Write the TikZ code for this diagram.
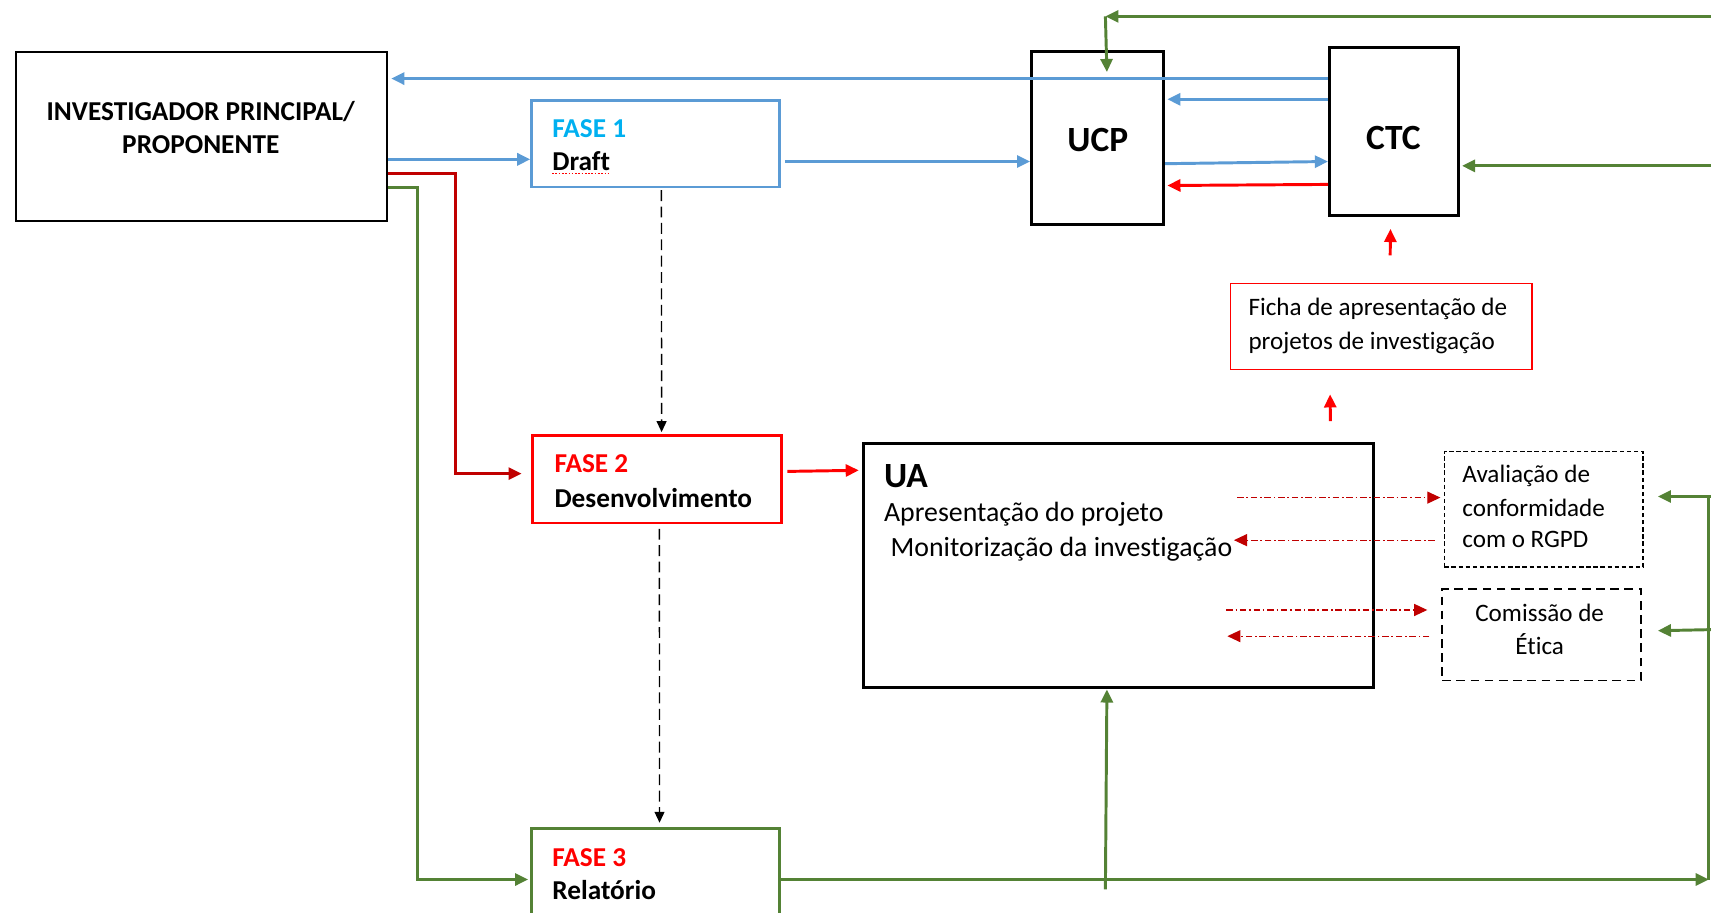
\documentclass[tikz,border=0pt]{standalone}
\usepackage{fontspec}
\setmainfont{Carlito}[Ligatures={NoCommon}]
\usetikzlibrary{arrows.meta,calc}
\definecolor{cblue}{HTML}{5B9BD5}
\definecolor{cgreen}{HTML}{548235}
\definecolor{cdred}{HTML}{C00000}
\definecolor{cred}{HTML}{FF0000}
\definecolor{ccyan}{HTML}{00B0F0}
\begin{document}
\begin{tikzpicture}[x=1pt,y=-1pt,
  box/.style={draw, inner sep=0pt, anchor=north west},
  tx/.style={inner sep=0pt},
  boldtx/.style={tx, font=\fontsize{25}{31}\selectfont\bfseries},
  bigtx/.style={tx, font=\fontsize{32.5}{36}\selectfont\bfseries},
  regtx/.style={tx, font=\fontsize{25.5}{31}\selectfont},
  smtx/.style={tx, font=\fontsize{23}{28}\selectfont},
  arr/.style={-{Triangle[length=12pt,width=11pt]}},
  bluearr/.style={arr, draw=cblue, line width=2.7pt},
  greenarr/.style={arr, draw=cgreen, line width=2.7pt},
  redarr/.style={arr, draw=cred, line width=2.7pt},
  dredarr/.style={arr, draw=cdred, line width=2.7pt},
  dashblk/.style={-{Triangle[length=10pt,width=9pt]}, draw=black, line width=1.3pt, dash pattern=on 10pt off 5pt},
  dashdot/.style={-{Triangle[length=12pt,width=11pt]}, draw=cdred, line width=1.1pt, dash pattern=on 6pt off 2.5pt on 1.5pt off 2.5pt},
]
\useasboundingbox (0,0) rectangle (1568,836);

% boxes
\node[box, line width=1.5pt, minimum width=340pt, minimum height=155pt] (ip) at (14,47) {};
\node[box, draw=cblue, line width=2.3pt, minimum width=227pt, minimum height=79pt] (f1) at (486,91) {};
\node[box, line width=2.8pt, minimum width=121pt, minimum height=158pt] (ucp) at (944,46) {};
\node[box, line width=2.8pt, minimum width=118pt, minimum height=154pt] (ctc) at (1217,42) {};
\node[box, draw=cred, line width=1.4pt, minimum width=276pt, minimum height=79pt] (ficha) at (1127,259) {};
\node[box, draw=cred, line width=2.6pt, minimum width=228pt, minimum height=80pt] (f2) at (487,398) {};
\node[box, line width=2.8pt, minimum width=467pt, minimum height=224pt] (ua) at (790,405) {};
\node[box, line width=1.3pt, dash pattern=on 4pt off 2.5pt, minimum width=182pt, minimum height=106pt] (av) at (1323,413) {};
\node[box, line width=1.3pt, dash pattern=on 8pt off 5pt, minimum width=182pt, minimum height=84pt] (com) at (1321,539) {};
\node[box, draw=cgreen, line width=2.8pt, minimum width=227pt, minimum height=100pt] (f3) at (486,758) {};

% texts
\node[boldtx, anchor=base] (ip1) at (184,110) {INVESTIGADOR PRINCIPAL/};
\node[boldtx, anchor=base] (ip2) at (184,141) {PROPONENTE};
\node[boldtx, text=ccyan, anchor=base west] (f1a) at (506,126) {FASE 1};
\node[boldtx, anchor=base west] (f1b) at (506,156) {Draft};
\draw[cred, line width=1pt, dash pattern=on 1.5pt off 1.5pt] ([yshift=-3pt]f1b.base west) -- ([yshift=-3pt]f1b.base east);
\node[bigtx, anchor=base] (ucptxt) at (1006,139) {UCP};
\node[bigtx, anchor=base] (ctctxt) at (1277,137) {CTC};
\node[smtx, anchor=base west] (fi1) at (1144,289) {Ficha de apresentação de};
\node[smtx, anchor=base west] (fi2) at (1144,320) {projetos de investigação};
\node[boldtx, text=cred, anchor=base west] (f2a) at (508,433) {FASE 2};
\node[boldtx, anchor=base west] (f2b) at (508,465) {Desenvolvimento};
\node[bigtx, anchor=base west] (uaa) at (810,447) {UA};
\node[regtx, anchor=base west] (uab) at (810,478) {Apresentação do projeto};
\node[regtx, anchor=base west] (uac) at (816,510) {Monitorização da investigação};
\node[smtx, anchor=base west] (av1) at (1340,442) {Avaliação de};
\node[smtx, anchor=base west] (av2) at (1340,473) {conformidade};
\node[smtx, anchor=base west] (av3) at (1340,502) {com o RGPD};
\node[smtx, anchor=base] (co1) at (1411,570) {Comissão de};
\node[smtx, anchor=base] (co2) at (1411,600) {Ética};
\node[boldtx, text=cred, anchor=base west] (f3a) at (506,794) {FASE 3};
\node[boldtx, anchor=base west] (f3b) at (506,824) {Relatório};

% free ends at the right edge
\coordinate (rt) at (1568,15);
\coordinate (tc) at (1013,15);
\coordinate (rc) at (1568,152);
\coordinate (re1) at (1568,455);
\coordinate (re2) at (1568,577);
\coordinate (rv) at (1566,455);
\coordinate (rb) at (1566,806);
\coordinate (uab0) at (1013,815);

% blue connectors
\draw[bluearr] ([yshift=-30pt]ctc.north west) -- ([xshift=3pt,yshift=-25pt]ip.north east);
\draw[bluearr] ([yshift=-49pt]ctc.north west) -- ([xshift=2pt,yshift=-45pt]ucp.north east);
\draw[bluearr] ([yshift=-104pt]ucp.north east) -- ([yshift=-106pt]ctc.north west);
\draw[redarr] ([yshift=-127pt]ctc.north west) -- ([xshift=2pt,yshift=-124pt]ucp.north east);
\draw[bluearr] ([yshift=-99pt]ip.north east) -- ([yshift=-55pt]f1.north west);
\draw[bluearr] ([xshift=4pt,yshift=-57pt]f1.north east) -- ([yshift=-102pt]ucp.north west);

% left elbow connectors
\draw[dredarr] ([yshift=-112pt]ip.north east) -- ++(62,0) |- ([xshift=-9pt,yshift=-36pt]f2.north west);
\draw[greenarr] ([yshift=-125pt]ip.north east) -- ++(27,0) |- ([xshift=-2pt,yshift=-48pt]f3.north west);

% phase flow
\draw[redarr] ([xshift=4pt,yshift=-34pt]f2.north east) -- ([xshift=-3pt,yshift=-26pt]ua.north west);
\draw[dashblk] ([xshift=5.5pt,yshift=-2pt]f1.south) -- ([xshift=4pt,yshift=2pt]f2.north);
\draw[dashblk] ([xshift=2pt,yshift=-4pt]f2.south) -- ([xshift=3.5pt,yshift=4pt]f3.north);

% green feedback
\draw[greenarr] ([yshift=-48pt]f3.north east) -- (rb);
\draw[cgreen, line width=2.7pt] (rv) -- (rb);
\draw[greenarr] (uab0) -- ([xshift=-10.5pt]ua.south);
\draw[greenarr] (rt) -- (tc);
\draw[greenarr] (tc) -- ([xshift=8.5pt,yshift=-20pt]ucp.north);
\draw[greenarr] (rc) -- ([xshift=2pt,yshift=-110pt]ctc.north east);
\draw[greenarr] (re1) -- ([xshift=13pt,yshift=-42pt]av.north east);
\draw[greenarr] (re2) -- ([xshift=15pt,yshift=-39pt]com.north east);

% ficha arrows
\draw[redarr, shorten <=25pt, shorten >=11pt] ([xshift=8pt]ficha.north) -- ([xshift=-3pt]ctc.south);
\draw[redarr, shorten <=19pt, shorten >=22pt] ([xshift=194.5pt]ua.north) -- ([xshift=-47pt]ficha.south);

% dash-dot exchanges
\draw[dashdot] ([xshift=-126pt,yshift=-51pt]ua.north east) -- ([xshift=-3pt,yshift=-43pt]av.north west);
\draw[dashdot] ([xshift=-8pt,yshift=-82pt]av.north west) -- ([xshift=-129pt,yshift=-90pt]ua.north east);
\draw[dashdot] ([xshift=-136pt,yshift=-154pt]ua.north east) -- ([xshift=-13pt,yshift=-20pt]com.north west);
\draw[dashdot] ([xshift=-11pt,yshift=-44pt]com.north west) -- ([xshift=-135pt,yshift=-178pt]ua.north east);
\end{tikzpicture}
\end{document}
